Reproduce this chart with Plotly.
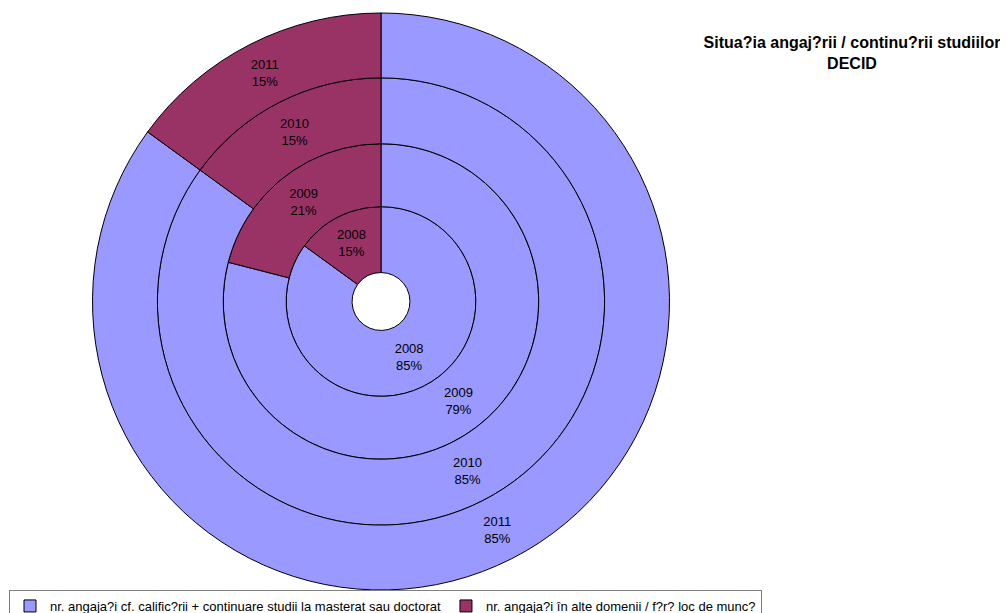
import plotly.graph_objects as go

categories = ["nr. angaja?i cf. calific?rii + continuare studii la masterat sau doctorat",
              "nr. angaja?i în alte domenii / f?r? loc de munc?"]
years = ["2008", "2009", "2010", "2011"]
share_qualified = [85, 79, 85, 85]
share_other = [15, 21, 15, 15]

colors = ["#9999FF", "#993366"]

# the page body adds an 8px offset, so the figure is laid out in 1000x605
W, H = 1000, 605
MB = 22                 # bottom margin reserved for the legend overflow
HP = H - MB             # plot-area height
cx, cy = 373, 294
radii = [29, 95, 158, 224, 289]

fig = go.Figure()
for i, yr in enumerate(years):
    r_in, r_out = radii[i], radii[i + 1]
    dom_x = [(cx - r_out) / W, (cx + r_out) / W]
    dom_y = [max(0.0, 1 - (cy + r_out) / HP), 1 - (cy - r_out) / HP]
    fig.add_trace(go.Pie(
        labels=categories,
        values=[share_qualified[i], share_other[i]],
        text=[yr, yr],
        texttemplate="%{text}<br>%{percent:.0%}",
        textinfo="text",
        textposition="inside",
        insidetextorientation="horizontal",
        hole=r_in / r_out,
        sort=False,
        direction="clockwise",
        rotation=0,
        domain=dict(x=dom_x, y=dom_y),
        marker=dict(colors=colors, line=dict(color="black", width=1)),
        textfont=dict(family="Liberation Sans, Arial", size=13, color="#000000"),
        showlegend=(i == 0),
        hoverinfo="label+percent",
    ))

fig.update_layout(
    width=W, height=H,
    margin=dict(l=0, r=0, t=0, b=MB),
    paper_bgcolor="white",
    plot_bgcolor="white",
    font=dict(family="Liberation Sans, Arial", color="#000000"),
    title=dict(
        text="<b>Situa?ia angaj?rii / continu?rii studiilor<br>DECID</b>",
        x=844 / W, xanchor="center", xref="container",
        y=1 - 40 / H, yanchor="middle", yref="container",
        font=dict(size=16, family="Liberation Sans, Arial", color="#000000"),
    ),
    legend=dict(
        orientation="h",
        x=1 / W, xanchor="left", xref="container",
        y=1 - 582 / H, yanchor="top", yref="container",
        bordercolor="#808080", borderwidth=1,
        font=dict(size=13, family="Liberation Sans, Arial", color="#000000"),
        bgcolor="white",
    ),
)

fig.write_html("out.html")
